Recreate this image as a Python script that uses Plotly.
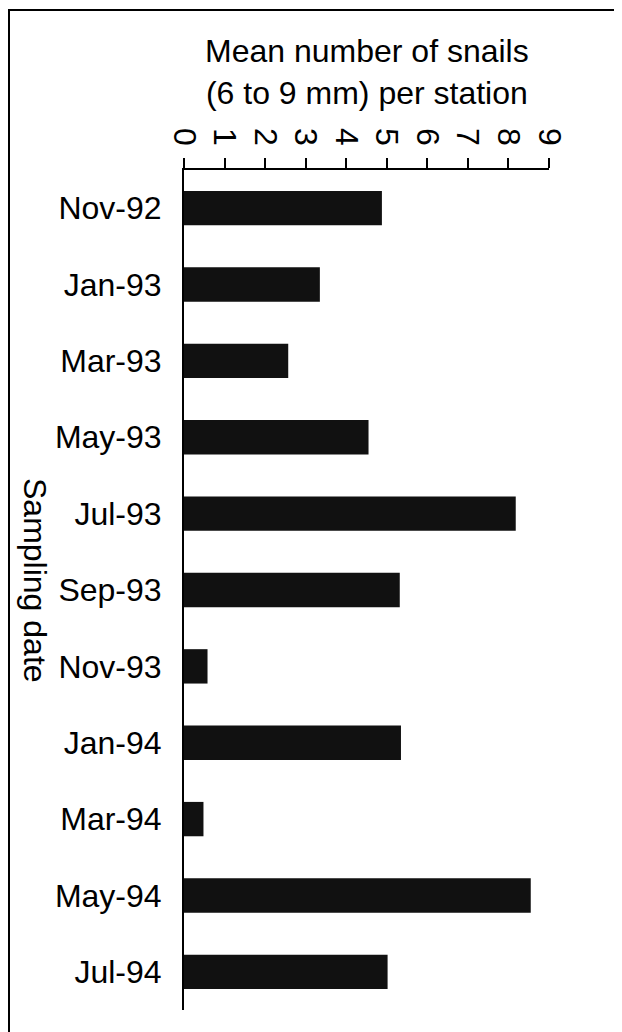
import plotly.graph_objects as go

dates = ["Nov-92", "Jan-93", "Mar-93", "May-93", "Jul-93", "Sep-93",
         "Nov-93", "Jan-94", "Mar-94", "May-94", "Jul-94"]
mean_snails = [4.88, 3.35, 2.57, 4.55, 8.18, 5.32, 0.58, 5.35, 0.48, 8.55, 5.02]
x_ticks = [0, 1, 2, 3, 4, 5, 6, 7, 8, 9]

# The page body has an 8px margin: work in page pixels and shift.
OFF = 8
W, H = 622 - OFF, 1032 - OFF
ML = 184 - OFF
MT = 170 - OFF
MR = W - (549 - OFF)
MB = H - (1010 - OFF)
PW, PH = W - ML - MR, H - MT - MB

def px_x(p):
    return (p - OFF - ML) / PW

def px_y(p):
    return 1 - (p - OFF - MT) / PH

FONT = "Liberation Sans, Arial, Helvetica, sans-serif"
FS = 32

fig = go.Figure()
fig.add_trace(go.Bar(
    x=mean_snails, y=dates, orientation="h",
    marker=dict(color="#111111", line=dict(width=0)),
    width=0.45,
))

fig.update_layout(
    width=W, height=H,
    margin=dict(l=ML, r=MR, t=MT, b=MB, pad=0),
    paper_bgcolor="white", plot_bgcolor="white",
    showlegend=False,
    font=dict(family=FONT, size=FS, color="black"),
    xaxis=dict(
        side="top", range=[0, 9], tickvals=x_ticks, ticktext=[str(v) for v in x_ticks],
        tickangle=90, ticks="outside", ticklen=10, tickwidth=2, tickcolor="black",
        showline=True, linewidth=2, linecolor="black", showgrid=False, zeroline=False,
        ticklabelstandoff=1, tickfont=dict(size=FS),
    ),
    xaxis2=dict(
        overlaying="x", anchor="y", side="top", range=[0, 9], tickvals=x_ticks,
        ticks="inside", ticklen=11, tickwidth=2, tickcolor="black",
        showticklabels=False, showline=False, showgrid=False, zeroline=False,
    ),
    yaxis=dict(
        type="category", categoryorder="array", categoryarray=dates,
        range=[10.5, -0.5], ticks="", showline=True, linewidth=2, linecolor="black",
        showgrid=False, zeroline=False, ticklabelstandoff=14, tickfont=dict(size=FS),
    ),
)

fig.add_annotation(
    text="Mean number of snails<br>(6 to 9 mm) per station",
    xref="paper", yref="paper", x=0.5, y=px_y(72),
    xanchor="center", yanchor="middle", showarrow=False,
    font=dict(size=FS),
)
fig.add_annotation(
    text="Sampling date", textangle=90,
    xref="paper", yref="paper", x=px_x(35), y=px_y(580),
    xanchor="center", yanchor="middle", showarrow=False,
    font=dict(size=FS),
)

fig.add_shape(type="rect", xref="paper", yref="paper",
              x0=px_x(OFF + 1), x1=px_x(617), y0=px_y(1040), y1=px_y(10),
              line=dict(color="black", width=2), fillcolor="rgba(0,0,0,0)", layer="below")

fig.write_html("out.html")
